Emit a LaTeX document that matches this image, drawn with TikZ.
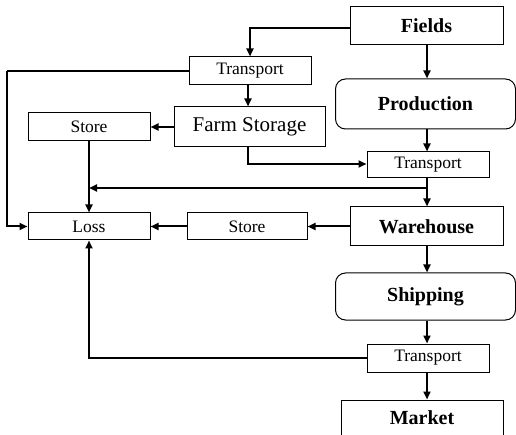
\documentclass[tikz,border=0pt]{standalone}
\usepackage{fontspec}
\setmainfont{Liberation Serif}
\usetikzlibrary{arrows.meta,calc}
\begin{document}
\begin{tikzpicture}[x=1pt,y=-1pt,
  box/.style={draw,line width=1pt,inner sep=0pt,anchor=center},
  small/.style={box,minimum width=122pt,minimum height=28pt,font=\fontsize{17.5}{20}\selectfont},
  big/.style={box,font=\fontsize{20}{24}\selectfont\bfseries},
  rbig/.style={big,rounded corners=10pt},
  conn/.style={line width=2pt,-{Triangle[length=8pt,width=7pt]}},
  plain/.style={line width=2pt}]
\useasboundingbox (0,0) rectangle (516,435);
\clip (0,0) rectangle (516,435);
\node[big,minimum width=153pt,minimum height=38pt] (fields) at (426.5,26) {Fields};
\node[small] (t1) at (250,71) {Transport};
\node[rbig,minimum width=180pt,minimum height=50pt] (prod) at (425.5,104) {Production};
\node[small] (s1) at (89,127) {Store};
\node[box,minimum width=151pt,minimum height=40pt,font=\fontsize{21}{25}\selectfont] (farm) at (249.5,127) {Farm Storage};
\node[small,minimum height=26pt] (t2) at (428,165) {Transport};
\node[small,minimum height=27pt] (loss) at (89,226.5) {Loss};
\node[small,minimum width=120pt,minimum height=27pt] (s2) at (247,226.5) {Store};
\node[big,minimum width=153pt,minimum height=39pt] (ware) at (426.5,226.5) {Warehouse};
\node[rbig,minimum width=180pt,minimum height=47pt] (ship) at (425.5,296.5) {Shipping};
\node[small] (t3) at (428,358) {Transport};
\node[big,minimum width=162pt,minimum height=52pt] (market) at (422,426) {Market\rule[-16pt]{0pt}{1pt}};
\coordinate (lft) at (7,71);
\coordinate (j1) at (428,188);
% connectors
\draw[conn] ($(fields.west)+(0,2)$) -| (t1.north);
\draw[conn] (fields.south -| 427,0) -- (prod.north -| 427,0);
\draw[conn] (t1.south -| 248,0) -- (farm.north -| 248,0);
\draw[conn] (farm.west) -- (s1.east);
\draw[conn] (farm.south -| 248,0) |- ($(t2.west)+(0,-1)$);
\draw[conn] (prod.south -| 427,0) -- (t2.north -| 427,0);
\draw[conn] (t2.south -| 427,0) -- (ware.north -| 427,0);
\draw[conn] (j1 -| 427,0) -- (j1 -| s1.south);
\draw[conn] (s1.south) -- (loss.north);
\draw[plain] (t1.west) -- (lft);
\draw[conn] (lft) |- (loss.west);
\draw[conn] (ware.west) -- (s2.east);
\draw[conn] (s2.west) -- (loss.east);
\draw[conn] (ware.south -| 427,0) -- (ship.north -| 427,0);
\draw[conn] (ship.south -| 427,0) -- (t3.north -| 427,0);
\draw[conn] (t3.south -| 427,0) -- (market.north -| 427,0);
\draw[conn] (t3.west) -| (loss.south);
\end{tikzpicture}
\end{document}
